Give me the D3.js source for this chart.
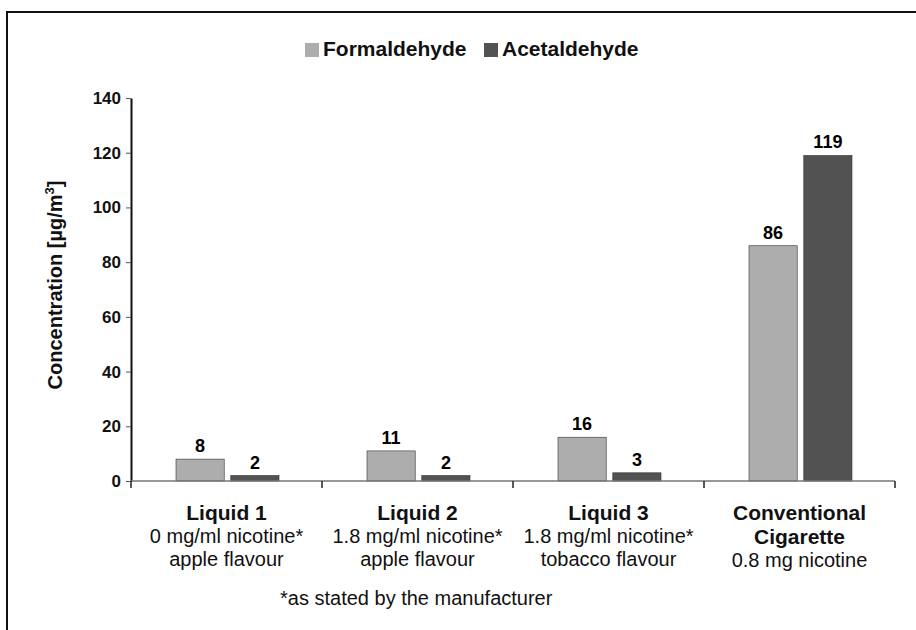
<!DOCTYPE html>
<html>
<head>
<meta charset="utf-8">
<script src="https://cdn.jsdelivr.net/npm/d3@7"></script>
<style>
  body { margin: 0; background: #fff; }
  svg { display: block; font-family: "Liberation Sans", Arial, sans-serif; }
</style>
</head>
<body>
<svg id="chart" width="916" height="630"></svg>
<script>
const categories = ["Liquid 1", "Liquid 2", "Liquid 3", "Conventional Cigarette"];
const categoryLines = [
  ["Liquid 1"],
  ["Liquid 2"],
  ["Liquid 3"],
  ["Conventional", "Cigarette"]
];
const categoryNotes = [
  ["0 mg/ml nicotine*", "apple flavour"],
  ["1.8 mg/ml nicotine*", "apple flavour"],
  ["1.8 mg/ml nicotine*", "tobacco flavour"],
  ["0.8 mg nicotine"]
];
const series = ["Formaldehyde", "Acetaldehyde"];
const formaldehyde = [8, 11, 16, 86];
const acetaldehyde = [2, 2, 3, 119];
const yTicks = [0, 20, 40, 60, 80, 100, 120, 140];
const colors = ["#adadad", "#525252"];

const svg = d3.select("#chart");

// frame of the scanned figure
svg.append("line").attr("x1", 7).attr("x2", 7).attr("y1", 12).attr("y2", 630)
  .attr("stroke", "#111").attr("stroke-width", 2);
svg.append("line").attr("x1", 6).attr("x2", 916).attr("y1", 12).attr("y2", 12)
  .attr("stroke", "#111").attr("stroke-width", 2);

const x0 = d3.scaleBand().domain(categories).range([131, 895]);
const x1 = d3.scaleBand().domain(series).range([45, 148]).paddingInner(0.12);
const y = d3.scaleLinear().domain([0, 140]).range([481, 98]);

const rows = categories.map((c, i) => ({
  cat: c,
  i: i,
  vals: [
    { key: series[0], v: formaldehyde[i], c: colors[0] },
    { key: series[1], v: acetaldehyde[i], c: colors[1] }
  ]
}));

// bars
const groups = svg.append("g").selectAll("g")
  .data(rows)
  .join("g")
  .attr("transform", d => `translate(${x0(d.cat)},0)`);

groups.selectAll("rect")
  .data(d => d.vals)
  .join("rect")
  .attr("x", d => x1(d.key))
  .attr("width", x1.bandwidth())
  .attr("y", d => y(d.v))
  .attr("height", d => y(0) - y(d.v))
  .attr("fill", d => d.c)
  .attr("stroke", "#333").attr("stroke-width", 0.6);

groups.selectAll("text.val")
  .data(d => d.vals)
  .join("text")
  .attr("class", "val")
  .attr("x", d => x1(d.key) + x1.bandwidth() / 2)
  .attr("y", d => y(d.v) - 7)
  .attr("text-anchor", "middle")
  .attr("font-size", 18)
  .attr("font-weight", "bold")
  .text(d => d.v);

// y axis
const yAxis = svg.append("g")
  .attr("transform", "translate(131,0)")
  .call(d3.axisLeft(y).tickValues(yTicks).tickSize(5).tickSizeOuter(0).tickPadding(5));
yAxis.select(".domain").attr("stroke", "#111").attr("stroke-width", 2);
yAxis.selectAll(".tick line").attr("stroke", "#555");
yAxis.selectAll(".tick text")
  .attr("font-size", 17).attr("font-weight", "bold").attr("fill", "#111")
  .attr("font-family", "Liberation Sans, Arial, sans-serif");

// x axis baseline with ticks between groups
const xAxis = svg.append("g").attr("transform", "translate(0,481)");
xAxis.append("line").attr("x1", 131).attr("x2", 895)
  .attr("stroke", "#777").attr("stroke-width", 1.5);
xAxis.selectAll("line.tk")
  .data(categories.concat(["end"]))
  .join("line")
  .attr("class", "tk")
  .attr("x1", (d, i) => i < categories.length ? x0(d) : x0.range()[1])
  .attr("x2", (d, i) => i < categories.length ? x0(d) : x0.range()[1])
  .attr("y1", 0).attr("y2", 7)
  .attr("stroke", "#222").attr("stroke-width", 1.5);

// category labels
const labels = svg.append("g").selectAll("text")
  .data(rows)
  .join("text")
  .attr("text-anchor", "middle")
  .attr("fill", "#111");

labels.each(function(d) {
  const t = d3.select(this);
  const cx = x0(d.cat) + x0.bandwidth() / 2;
  let yy = 520;
  categoryLines[d.i].forEach(line => {
    t.append("tspan").attr("x", cx).attr("y", yy)
      .attr("font-size", 21).attr("font-weight", "bold").text(line);
    yy += 24;
  });
  categoryNotes[d.i].forEach(line => {
    t.append("tspan").attr("x", cx).attr("y", yy - 1)
      .attr("font-size", 20).text(line);
    yy += 23;
  });
});

// footnote
svg.append("text")
  .attr("x", 280).attr("y", 605)
  .attr("font-size", 20).attr("fill", "#111")
  .text("*as stated by the manufacturer");

// y axis title
const yt = svg.append("text")
  .attr("transform", "translate(62,285) rotate(-90)")
  .attr("text-anchor", "middle")
  .attr("font-size", 20).attr("font-weight", "bold").attr("fill", "#111");
yt.append("tspan").text("Concentration [µg/m");
yt.append("tspan").attr("font-size", 13).attr("dy", -8).text("3");
yt.append("tspan").attr("dy", 8).text("]");

// legend
const legend = svg.append("g").attr("transform", "translate(305,42)");
const legItems = legend.selectAll("g")
  .data(series)
  .join("g")
  .attr("transform", (d, i) => `translate(${i * 179},0)`);
legItems.append("rect")
  .attr("width", 14).attr("height", 14).attr("y", 1)
  .attr("fill", (d, i) => colors[i]);
legItems.append("text")
  .attr("x", 18).attr("y", 14)
  .attr("font-size", 21).attr("font-weight", "bold").attr("fill", "#111")
  .text(d => d);
</script>
</body>
</html>
